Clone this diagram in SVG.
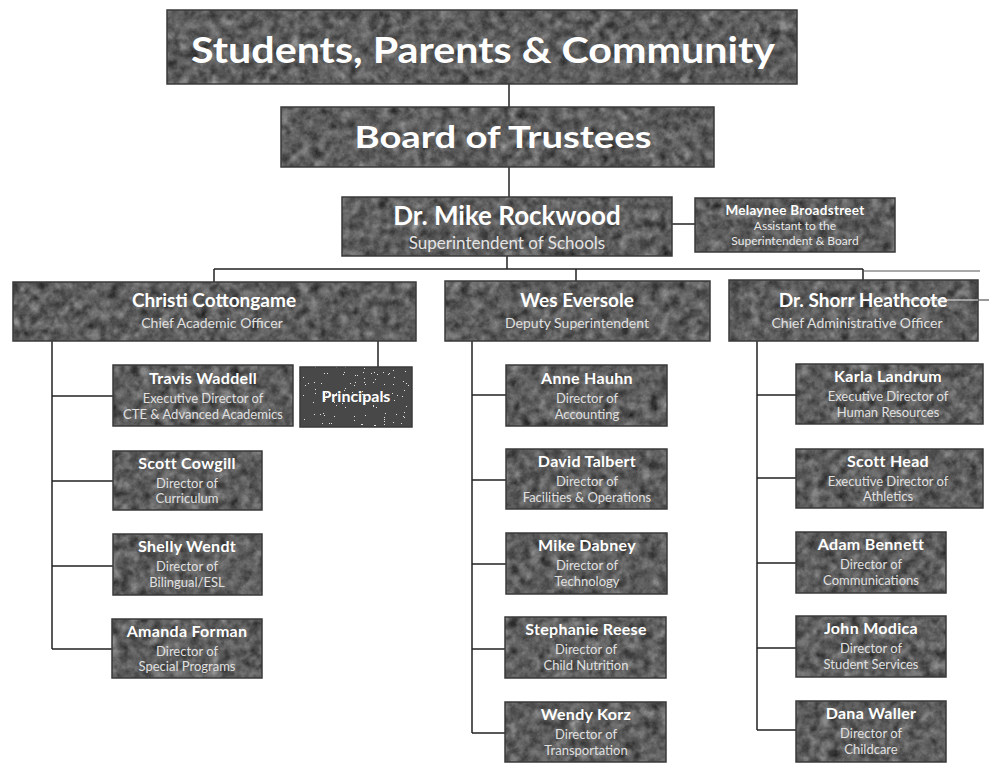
<svg xmlns="http://www.w3.org/2000/svg" width="989" height="764" viewBox="0 0 989 764">
<defs>
<filter id="camo" x="0" y="0" width="100%" height="100%" color-interpolation-filters="sRGB">
<feTurbulence type="fractalNoise" baseFrequency="0.1" numOctaves="4" seed="7" result="n"/>
<feColorMatrix in="n" type="matrix" values="0.33 0.33 0.33 0 0  0.33 0.33 0.33 0 0  0.33 0.33 0.33 0 0  0 0 0 0 1" result="g"/>
<feComponentTransfer in="g" result="c">
<feFuncR type="linear" slope="0.9" intercept="-0.08"/>
<feFuncG type="linear" slope="0.9" intercept="-0.08"/>
<feFuncB type="linear" slope="0.9" intercept="-0.08"/>
</feComponentTransfer>
<feComposite in="c" in2="SourceGraphic" operator="in"/>
</filter>
<filter id="speck" x="0" y="0" width="100%" height="100%" color-interpolation-filters="sRGB">
<feTurbulence type="fractalNoise" baseFrequency="1.1" numOctaves="1" seed="5" result="n"/>
<feColorMatrix in="n" type="matrix" values="0 0 0 0 1  0 0 0 0 1  0 0 0 0 1  1.8 0 0 0 -0.4" result="a"/>
<feComponentTransfer in="a" result="s"><feFuncA type="discrete" tableValues="0 0 0 0 0 0 0 0 0 0.85"/></feComponentTransfer>
<feComposite in="s" in2="SourceGraphic" operator="in" result="s2"/>
<feMerge><feMergeNode in="SourceGraphic"/><feMergeNode in="s2"/></feMerge>
</filter>
</defs>
<style>
.bx{fill:#666;filter:url(#camo)}
.bd{fill:none;stroke:#3a3a3a;stroke-width:1.5}
.pr{fill:#484848;filter:url(#speck)}
text{font-family:Lato,"Open Sans","Liberation Sans",sans-serif;text-anchor:middle;fill:#f2f2f2}
.t1{font-size:37px;font-weight:bold;fill:#fff}
.t2{font-size:30px;font-weight:bold;fill:#fff}
.t3{font-size:26px;font-weight:bold;fill:#fff}
.s3{font-size:17px;fill:#e4e4e4}
.n{font-size:19px;font-weight:bold;fill:#fff}
.ns{font-size:14px;fill:#e0e0e0}
.m{font-size:16px;font-weight:bold;fill:#fff;letter-spacing:0.3px}
.ms{font-size:13px;fill:#e0e0e0}
.mb{font-size:13.5px;font-weight:bold;fill:#fff;letter-spacing:0.3px}
.sm{font-size:12px;fill:#eaeaea}
.pt{font-size:16px;font-weight:bold;fill:#fff}
.c{stroke:#222;stroke-width:1.5;fill:none}
</style>

<g id="connectors">
<path class="c" d="M509 84V107M509 167V197M672 224H695M507 256V269M214 269H863M214 269V282M576 269V281M863 269V280M378 341V367"/>
<path d="M863 271H980" stroke="#555" stroke-width="1.2" fill="none"/>
<path class="c" d="M52 341V649M52 396H113M52 481H113M52 566H113M52 649H112"/>
<path class="c" d="M472 341V733M472 395H506M472 480H506M472 564H506M472 649H506M472 733H506"/>
<path class="c" d="M757 341V730M757 395H796M757 478H796M757 563H796M757 648H796M757 730H796"/>
</g>

<g id="community">
<rect class="bx" x="167" y="10" width="630" height="74"/><rect class="bd" x="167" y="10" width="630" height="74"/>
<text class="t1" x="483" y="63" textLength="584" lengthAdjust="spacingAndGlyphs">Students, Parents &amp; Community</text>
</g>

<g id="board">
<rect class="bx" x="281" y="107" width="433" height="60"/><rect class="bd" x="281" y="107" width="433" height="60"/>
<text class="t2" x="503" y="148" textLength="297" lengthAdjust="spacingAndGlyphs">Board of Trustees</text>
</g>

<g id="rockwood">
<rect class="bx" x="342" y="197" width="330" height="59"/><rect class="bd" x="342" y="197" width="330" height="59"/>
<text class="t3" x="507" y="225">Dr. Mike Rockwood</text>
<text class="s3" x="507" y="249">Superintendent of Schools</text>
</g>

<g id="broadstreet">
<rect class="bx" x="695" y="198" width="200" height="54"/><rect class="bd" x="695" y="198" width="200" height="54"/>
<text class="mb" x="795" y="215">Melaynee Broadstreet</text>
<text class="sm" x="795" y="230">Assistant to the</text>
<text class="sm" x="795" y="245">Superintendent &amp; Board</text>
</g>

<g id="cottongame">
<rect class="bx" x="13" y="282" width="403" height="59"/><rect class="bd" x="13" y="282" width="403" height="59"/>
<text class="n" x="214" y="307">Christi Cottongame</text>
<text class="ns" x="212" y="328">Chief Academic Officer</text>
</g>

<g id="eversole">
<rect class="bx" x="445" y="281" width="265" height="60"/><rect class="bd" x="445" y="281" width="265" height="60"/>
<text class="n" x="577" y="307">Wes Eversole</text>
<text class="ns" x="577" y="328">Deputy Superintendent</text>
</g>

<g id="heathcote">
<rect class="bx" x="729" y="280" width="249" height="61"/><rect class="bd" x="729" y="280" width="249" height="61"/>
<text class="n" x="863" y="307">Dr. Shorr Heathcote</text>
<text class="ns" x="857" y="328">Chief Administrative Officer</text>
<path d="M905 300H978" stroke="#eee" stroke-width="1.2"/>
<path d="M978 300H989" stroke="#555" stroke-width="1.2"/>
</g>

<g id="waddell">
<rect class="bx" x="113" y="365" width="180" height="61"/><rect class="bd" x="113" y="365" width="180" height="61"/>
<text class="m" x="203" y="384">Travis Waddell</text>
<text class="ms" x="203" y="403">Executive Director of</text>
<text class="ms" x="203" y="419">CTE &amp; Advanced Academics</text>
</g>

<g id="principals">
<rect class="pr" x="300" y="367" width="112" height="60"/><rect class="bd" x="300" y="367" width="112" height="60"/>
<text class="pt" x="356" y="402">Principals</text>
</g>

<g id="cowgill">
<rect class="bx" x="113" y="451" width="149" height="59"/><rect class="bd" x="113" y="451" width="149" height="59"/>
<text class="m" x="187" y="469">Scott Cowgill</text>
<text class="ms" x="187" y="488">Director of</text>
<text class="ms" x="187" y="503">Curriculum</text>
</g>

<g id="wendt">
<rect class="bx" x="113" y="534" width="149" height="61"/><rect class="bd" x="113" y="534" width="149" height="61"/>
<text class="m" x="187" y="552">Shelly Wendt</text>
<text class="ms" x="187" y="571">Director of</text>
<text class="ms" x="187" y="587">Bilingual/ESL</text>
</g>

<g id="forman">
<rect class="bx" x="112" y="619" width="150" height="59"/><rect class="bd" x="112" y="619" width="150" height="59"/>
<text class="m" x="187" y="637">Amanda Forman</text>
<text class="ms" x="187" y="656">Director of</text>
<text class="ms" x="187" y="671">Special Programs</text>
</g>

<g id="hauhn">
<rect class="bx" x="506" y="365" width="161" height="61"/><rect class="bd" x="506" y="365" width="161" height="61"/>
<text class="m" x="587" y="384">Anne Hauhn</text>
<text class="ms" x="587" y="403">Director of</text>
<text class="ms" x="587" y="419">Accounting</text>
</g>

<g id="talbert">
<rect class="bx" x="506" y="449" width="161" height="60"/><rect class="bd" x="506" y="449" width="161" height="60"/>
<text class="m" x="587" y="467">David Talbert</text>
<text class="ms" x="587" y="486">Director of</text>
<text class="ms" x="587" y="502">Facilities &amp; Operations</text>
</g>

<g id="dabney">
<rect class="bx" x="506" y="533" width="161" height="61"/><rect class="bd" x="506" y="533" width="161" height="61"/>
<text class="m" x="587" y="551">Mike Dabney</text>
<text class="ms" x="587" y="570">Director of</text>
<text class="ms" x="587" y="586">Technology</text>
</g>

<g id="reese">
<rect class="bx" x="505" y="617" width="161" height="61"/><rect class="bd" x="505" y="617" width="161" height="61"/>
<text class="m" x="586" y="635">Stephanie Reese</text>
<text class="ms" x="586" y="654">Director of</text>
<text class="ms" x="586" y="670">Child Nutrition</text>
</g>

<g id="korz">
<rect class="bx" x="505" y="702" width="161" height="60"/><rect class="bd" x="505" y="702" width="161" height="60"/>
<text class="m" x="586" y="720">Wendy Korz</text>
<text class="ms" x="586" y="739">Director of</text>
<text class="ms" x="586" y="755">Transportation</text>
</g>

<g id="landrum">
<rect class="bx" x="796" y="364" width="187" height="60"/><rect class="bd" x="796" y="364" width="187" height="60"/>
<text class="m" x="888" y="382">Karla Landrum</text>
<text class="ms" x="888" y="401">Executive Director of</text>
<text class="ms" x="888" y="417">Human Resources</text>
</g>

<g id="head">
<rect class="bx" x="796" y="449" width="187" height="59"/><rect class="bd" x="796" y="449" width="187" height="59"/>
<text class="m" x="888" y="467">Scott Head</text>
<text class="ms" x="888" y="486">Executive Director of</text>
<text class="ms" x="888" y="501">Athletics</text>
</g>

<g id="bennett">
<rect class="bx" x="796" y="532" width="150" height="61"/><rect class="bd" x="796" y="532" width="150" height="61"/>
<text class="m" x="871" y="550">Adam Bennett</text>
<text class="ms" x="871" y="569">Director of</text>
<text class="ms" x="871" y="585">Communications</text>
</g>

<g id="modica">
<rect class="bx" x="796" y="616" width="150" height="61"/><rect class="bd" x="796" y="616" width="150" height="61"/>
<text class="m" x="871" y="634">John Modica</text>
<text class="ms" x="871" y="653">Director of</text>
<text class="ms" x="871" y="669">Student Services</text>
</g>

<g id="waller">
<rect class="bx" x="796" y="701" width="150" height="61"/><rect class="bd" x="796" y="701" width="150" height="61"/>
<text class="m" x="871" y="719">Dana Waller</text>
<text class="ms" x="871" y="738">Director of</text>
<text class="ms" x="871" y="754">Childcare</text>
</g>
</svg>
